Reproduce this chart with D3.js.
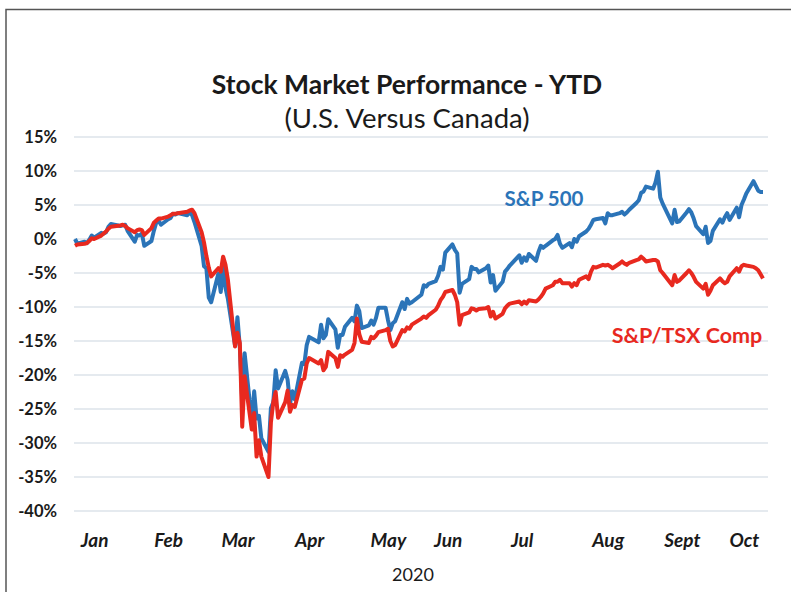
<!DOCTYPE html>
<html>
<head>
<meta charset="utf-8">
<script src="https://cdn.jsdelivr.net/npm/d3@7"></script>
<style>
  html, body { margin: 0; padding: 0; background: #fff; }
  svg { display: block; font-family: Lato, "Open Sans", sans-serif; }
</style>
</head>
<body>
<div id="chart"></div>
<script>
// Stock market performance YTD 2020 - S&P 500 vs S&P/TSX Composite
// values are % change, one per trading day (Jan 2 .. Oct 16)

const spx = [
  // Jan
  0.0, -0.7, -0.4, -0.6, -0.1, 0.5, 0.2, 0.9, 0.8, 1.0, 1.8, 2.2, 1.9, 2.0, 2.1, 1.2, -0.4, 0.6, 0.5, 0.8, -1.0,
  // Feb
  -0.3, 1.2, 2.4, 2.7, 2.1, 2.9, 3.1, 3.7, 3.6, 3.8, 3.5, 3.9, 3.5, 2.5, -1.0, -4.0, -4.3, -8.6, -9.3,
  // Mar
  -5.1, -7.8, -3.9, -7.2, -8.8, -15.7, -11.5, -15.9, -23.9, -16.8, -26.8, -22.4, -26.4, -26.0, -29.3, -31.3, -24.9, -24.0, -19.3, -22.0, -19.4, -20.7,
  // Apr
  -24.2, -22.4, -23.6, -18.2, -18.4, -15.6, -14.4, -15.2, -12.6, -14.6, -14.1, -11.8, -13.3, -16.0, -14.1, -14.1, -12.9, -11.6, -12.1, -9.8, -10.6,
  // May
  -13.1, -12.7, -12.0, -12.6, -11.6, -10.1, -10.1, -11.9, -13.4, -12.4, -12.1, -9.3, -10.3, -8.8, -9.5, -9.3, -8.2, -6.8, -7.0, -6.6,
  // Jun
  -6.2, -5.4, -4.1, -4.5, -2.0, -0.8, -1.6, -2.1, -7.9, -6.6, -5.9, -4.1, -4.4, -4.4, -4.9, -4.3, -3.9, -6.4, -5.3, -7.6, -6.3, -4.8,
  // Jul
  -4.4, -3.9, -2.4, -3.5, -2.7, -3.2, -2.2, -3.2, -1.9, -1.0, -1.3, -1.0, -0.2, 0.0, 0.6, -0.7, -1.3, -0.6, -1.2, 0.0, -0.4, 0.4,
  // Aug
  1.1, 1.5, 2.1, 2.8, 2.9, 3.1, 2.3, 3.8, 3.5, 3.5, 3.8, 4.0, 3.6, 3.9, 4.3, 5.3, 5.7, 6.8, 7.0, 7.7, 7.4,
  // Sep
  8.3, 9.9, 6.1, 5.2, 2.3, 4.3, 2.5, 2.6, 3.9, 4.4, 3.9, 3.0, 1.9, 0.7, 1.8, -0.6, -0.3, 1.2, 2.9, 2.4, 3.2,
  // Oct
  3.8, 2.8, 4.6, 3.2, 5.0, 5.8, 6.7, 8.5, 7.8, 7.1, 6.9, 6.9
];

const tsx = [
  // Jan
  -1.0, -0.8, -0.7, -0.6, -0.3, 0.1, 0.0, 0.5, 0.8, 1.1, 1.5, 1.8, 2.0, 2.1, 1.9, 1.6, 1.0, 1.3, 1.4, 1.3, 0.6,
  // Feb
  1.6, 2.4, 2.7, 3.0, 3.0, 3.3, 3.5, 3.7, 3.7, 3.8, 4.0, 4.2, 4.3, 3.8, 1.0, -0.5, -2.5, -4.2, -5.5,
  // Mar
  -4.3, -4.8, -2.6, -3.8, -6.0, -15.8, -13.8, -15.3, -27.6, -20.2, -28.0, -25.6, -32.0, -29.6, -32.0, -35.0, -27.0, -24.0, -22.5, -26.3, -24.0, -22.3,
  // Apr
  -25.4, -24.4, -24.7, -20.7, -20.5, -18.3, -17.5, -18.3, -17.8, -19.3, -18.8, -16.6, -17.5, -18.8, -17.1, -17.3, -17.0, -16.3, -15.3, -11.7, -14.0,
  // May
  -15.1, -15.3, -14.4, -14.6, -14.2, -13.7, -13.4, -13.2, -15.0, -15.8, -15.6, -13.4, -13.6, -13.0, -13.2, -12.6, -11.7, -11.4, -11.6, -11.2,
  // Jun
  -10.4, -9.8, -9.0, -8.5, -7.8, -7.5, -8.2, -9.3, -12.6, -11.2, -10.8, -10.2, -10.3, -10.5, -10.3, -10.2, -10.0, -11.4, -10.7, -11.7, -11.0, -10.2,
  // Jul
  -9.8, -9.5, -9.2, -9.6, -9.2, -9.5, -9.0, -9.2, -8.9, -8.5, -8.0, -7.3, -6.8, -6.3, -6.3, -6.0, -6.5, -6.5, -7.0, -6.5, -6.8, -6.0,
  // Aug
  -5.5, -5.9, -4.8, -4.1, -4.2, -3.8, -3.9, -3.8, -4.0, -4.3, -3.6, -3.3, -3.6, -3.8, -3.5, -3.1, -3.0, -2.6, -2.9, -3.3, -3.1,
  // Sep
  -3.1, -3.3, -4.6, -5.0, -6.8, -5.3, -6.3, -6.1, -5.0, -4.6, -5.0, -5.6, -6.3, -7.3, -6.6, -8.2, -7.6, -6.8, -5.8, -6.2, -6.5,
  // Oct
  -6.3, -5.5, -4.3, -4.8, -4.0, -3.8, -3.9, -4.1, -4.3, -4.6, -5.2, -5.8
];

const firstDay = '2020-01-02';
const lastDay = '2020-10-16';
const holidays = ['2020-01-20', '2020-02-17', '2020-04-10', '2020-05-25', '2020-07-03', '2020-09-07'];

const yTicks = [15, 10, 5, 0, -5, -10, -15, -20, -25, -30, -35, -40];
const monthLabels = ['Jan', 'Feb', 'Mar', 'Apr', 'May', 'Jun', 'Jul', 'Aug', 'Sept', 'Oct'];
const monthTickDates = ['2020-01-10', '2020-02-10', '2020-03-10', '2020-04-09', '2020-05-12',
  '2020-06-06', '2020-07-07', '2020-08-12', '2020-09-12', '2020-10-08'];

const blue = '#2b74b8';
const red = '#e8291f';

const width = 791, height = 592;
const parse = d3.timeParse('%Y-%m-%d');
const fmt = d3.timeFormat('%Y-%m-%d');

// trading calendar
const tradingDays = d3.timeDay.range(parse(firstDay), d3.timeDay.offset(parse(lastDay), 1))
  .filter(d => d.getDay() !== 0 && d.getDay() !== 6 && !holidays.includes(fmt(d)));

const n = Math.min(tradingDays.length, spx.length, tsx.length);
const spxData = spx.slice(0, n).map((v, i) => ({ date: tradingDays[i], value: v }));
const tsxData = tsx.slice(0, n).map((v, i) => ({ date: tradingDays[i], value: v }));

const svg = d3.select('#chart').append('svg')
  .attr('width', width)
  .attr('height', height);

// frame (top and left edges visible)
svg.append('path')
  .attr('d', 'M6,592 L6,9.5 L791,9.5')
  .attr('fill', 'none')
  .attr('stroke', '#555')
  .attr('stroke-width', 1.5);

const x = d3.scaleTime()
  .domain([parse(firstDay), parse(lastDay)])
  .range([75, 763]);

const y = d3.scaleLinear()
  .domain([-40, 15])
  .range([511, 137]);

// gridlines
svg.append('g')
  .selectAll('line')
  .data(yTicks)
  .enter()
  .append('line')
  .attr('x1', 74)
  .attr('x2', 768)
  .attr('y1', d => y(d))
  .attr('y2', d => y(d))
  .attr('stroke', '#dde3ea')
  .attr('stroke-width', 1.5);

// y axis
const yAxis = svg.append('g')
  .attr('transform', 'translate(57,0)')
  .call(d3.axisLeft(y).tickValues(yTicks).tickSize(0).tickPadding(0).tickFormat(d => d + '%'));
yAxis.select('.domain').remove();
yAxis.selectAll('text')
  .attr('font-family', 'Lato, sans-serif')
  .attr('font-size', '16.5px')
  .attr('font-weight', '700')
  .attr('fill', '#1a1a1a');

// x axis
const xAxis = svg.append('g')
  .attr('transform', 'translate(0,533)')
  .call(d3.axisBottom(x)
    .tickValues(monthTickDates.map(parse))
    .tickSize(0)
    .tickPadding(0)
    .tickFormat((d, i) => monthLabels[i]));
xAxis.select('.domain').remove();
xAxis.selectAll('text')
  .attr('font-family', 'Lato, sans-serif')
  .attr('font-size', '19px')
  .attr('font-weight', '700')
  .attr('font-style', 'italic')
  .attr('fill', '#1a1a1a');

// lines
const line = d3.line()
  .x(d => x(d.date))
  .y(d => y(d.value));

svg.append('path')
  .datum(spxData)
  .attr('fill', 'none')
  .attr('stroke', blue)
  .attr('stroke-width', 4)
  .attr('stroke-linejoin', 'round')
  .attr('d', line);

svg.append('path')
  .datum(tsxData)
  .attr('fill', 'none')
  .attr('stroke', red)
  .attr('stroke-width', 4)
  .attr('stroke-linejoin', 'round')
  .attr('d', line);

// titles
svg.append('text')
  .attr('x', 407)
  .attr('y', 94)
  .attr('text-anchor', 'middle')
  .attr('font-size', '26.5px')
  .attr('font-weight', '700')
  .attr('fill', '#1a1a1a')
  .text('Stock Market Performance - YTD');

svg.append('text')
  .attr('x', 407)
  .attr('y', 128)
  .attr('text-anchor', 'middle')
  .attr('font-size', '27.5px')
  .attr('fill', '#1a1a1a')
  .text('(U.S. Versus Canada)');

svg.append('text')
  .attr('x', 413)
  .attr('y', 581)
  .attr('text-anchor', 'middle')
  .attr('font-size', '18px')
  .attr('fill', '#1a1a1a')
  .text('2020');

// series labels
svg.append('text')
  .attr('x', 544)
  .attr('y', 206)
  .attr('text-anchor', 'middle')
  .attr('font-size', '20.5px')
  .attr('font-weight', '700')
  .attr('fill', blue)
  .text('S&P 500');

svg.append('text')
  .attr('x', 687)
  .attr('y', 343)
  .attr('text-anchor', 'middle')
  .attr('font-size', '21.5px')
  .attr('font-weight', '700')
  .attr('fill', red)
  .text('S&P/TSX Comp');
</script>
</body>
</html>
